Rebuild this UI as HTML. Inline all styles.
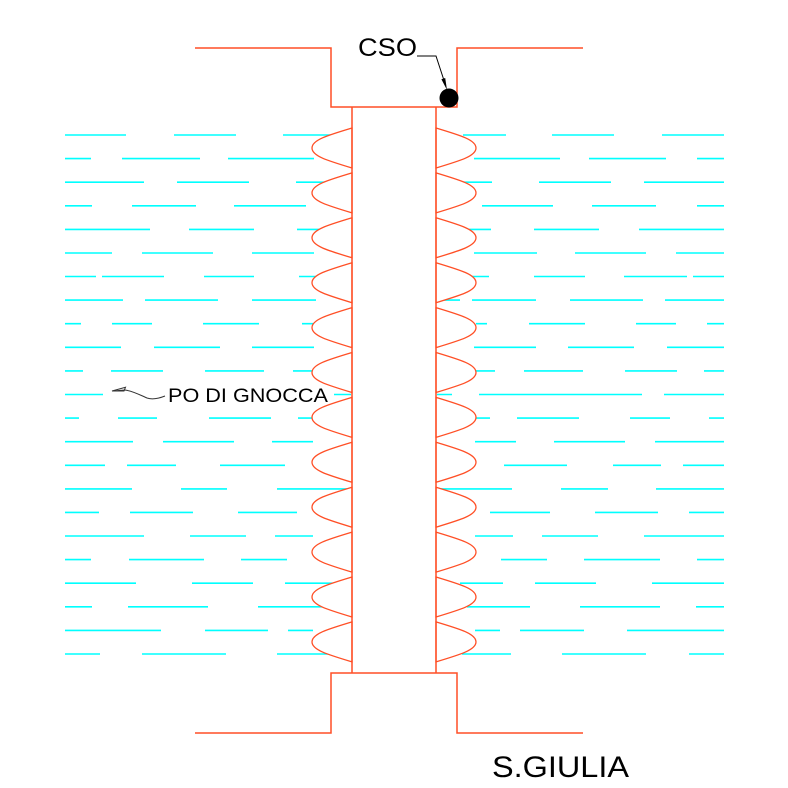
<!DOCTYPE html>
<html>
<head>
<meta charset="utf-8">
<style>
html,body{margin:0;padding:0;background:#fff;}
svg{display:block;}
text{font-family:"Liberation Sans",Arial,sans-serif;fill:#000;}
</style>
</head>
<body>
<svg width="788" height="788" viewBox="0 0 788 788" xmlns="http://www.w3.org/2000/svg">
<defs>
<path id="bl" d="M0,-20 C-25,-12.5 -40,-8 -40,0 C-40,8 -25,12.5 0,20 Z" fill="#fff" stroke="#ff4f26" stroke-width="1.3"/>
</defs>
<g stroke="#00ffff" stroke-width="1.6" fill="none">
<path d="M65,135H126M174,135H236M283,135H350M463,135H506M552,135H614M662,135H724"/>
<path d="M65,158.6H91M122,158.6H200M228,158.6H314M474,158.6H560M589,158.6H666M697,158.6H724"/>
<path d="M65,182.2H144M177,182.2H249M296,182.2H350M458,182.2H492M539,182.2H611M644,182.2H724"/>
<path d="M65,205.8H92M132,205.8H196M234,205.8H306M482,205.8H553M592,205.8H656M697,205.8H724"/>
<path d="M65,229.4H150M189,229.4H254M297,229.4H350M458,229.4H491M534,229.4H599M639,229.4H724"/>
<path d="M65,253H112M142,253H213M252,253H314M474,253H537M575,253H646M676,253H724"/>
<path d="M65,276.5H96M102,276.5H164M204,276.5H254M299,276.5H350M458,276.5H489M534,276.5H585M624,276.5H687M693,276.5H724"/>
<path d="M65,300.1H123M145,300.1H218M252,300.1H316M444,300.1H460M472,300.1H536M570,300.1H643M665,300.1H724"/>
<path d="M65,323.7H81M112,323.7H152M203,323.7H259M302,323.7H350M476,323.7H487M529,323.7H585M636,323.7H676M707,323.7H724"/>
<path d="M65,347.3H121M154,347.3H220M252,347.3H314M474,347.3H536M568,347.3H634M667,347.3H724"/>
<path d="M65,370.9H83M111,370.9H163M205,370.9H264M293,370.9H350M476,370.9H495M524,370.9H583M625,370.9H677M704,370.9H724"/>
<path d="M65,394.5H103M334,394.5H351M437,394.5H452M479,394.5H642M664,394.5H724"/>
<path d="M65,418.1H79M118,418.1H157M209,418.1H271M298,418.1H350M476,418.1H490M517,418.1H579M630,418.1H670M709,418.1H724"/>
<path d="M65,441.7H133M163,441.7H234M272,441.7H313M475,441.7H516M554,441.7H625M655,441.7H724"/>
<path d="M65,465.3H105M127,465.3H176M220,465.3H285M504,465.3H567M613,465.3H661M683,465.3H724"/>
<path d="M65,488.9H132M181,488.9H227M277,488.9H351M440,488.9H512M561,488.9H608M656,488.9H724"/>
<path d="M65,512.4H99M130,512.4H193M238,512.4H297M490,512.4H550M595,512.4H658M689,512.4H724"/>
<path d="M65,536H144M190,536H246M275,536H313M475,536H513M542,536H598M644,536H724"/>
<path d="M65,559.6H91M129,559.6H204M241,559.6H287M501,559.6H547M584,559.6H660M697,559.6H724"/>
<path d="M65,583.2H136M192,583.2H253M285,583.2H350M460,583.2H503M535,583.2H596M652,583.2H724"/>
<path d="M65,606.8H92M128,606.8H208M258,606.8H350M467,606.8H530M580,606.8H660M696,606.8H724"/>
<path d="M65,630.4H161M205,630.4H268M288,630.4H313M475,630.4H500M520,630.4H584M627,630.4H724"/>
<path d="M65,654H100M142,654H226M277,654H350M462,654H511M562,654H646M689,654H724"/>
</g>
<g>
<use href="#bl" transform="translate(352,148)"/>
<use href="#bl" transform="translate(352,192.9)"/>
<use href="#bl" transform="translate(352,237.8)"/>
<use href="#bl" transform="translate(352,282.7)"/>
<use href="#bl" transform="translate(352,327.6)"/>
<use href="#bl" transform="translate(352,372.5)"/>
<use href="#bl" transform="translate(352,417.4)"/>
<use href="#bl" transform="translate(352,462.3)"/>
<use href="#bl" transform="translate(352,507.2)"/>
<use href="#bl" transform="translate(352,552.1)"/>
<use href="#bl" transform="translate(352,597)"/>
<use href="#bl" transform="translate(352,641.9)"/>
<use href="#bl" transform="translate(436,148) scale(-1,1)"/>
<use href="#bl" transform="translate(436,192.9) scale(-1,1)"/>
<use href="#bl" transform="translate(436,237.8) scale(-1,1)"/>
<use href="#bl" transform="translate(436,282.7) scale(-1,1)"/>
<use href="#bl" transform="translate(436,327.6) scale(-1,1)"/>
<use href="#bl" transform="translate(436,372.5) scale(-1,1)"/>
<use href="#bl" transform="translate(436,417.4) scale(-1,1)"/>
<use href="#bl" transform="translate(436,462.3) scale(-1,1)"/>
<use href="#bl" transform="translate(436,507.2) scale(-1,1)"/>
<use href="#bl" transform="translate(436,552.1) scale(-1,1)"/>
<use href="#bl" transform="translate(436,597) scale(-1,1)"/>
<use href="#bl" transform="translate(436,641.9) scale(-1,1)"/>
</g>
<g stroke="#ff4f26" stroke-width="1.5" fill="none">
<path d="M352,107V673M436,107V673"/>
<polyline points="195,48 331,48 331,107 457,107 457,48 583,48"/>
<polyline points="195,733 331,733 331,673 457,673 457,733 583,733"/>
</g>
<!-- CSO leader -->
<polyline points="417,56 436,56 445.5,85" fill="none" stroke="#000" stroke-width="1"/>
<polygon points="445.2,78 441.4,79.2 447,90" fill="#000"/>
<circle cx="449" cy="98" r="9.5" fill="#000"/>
<text x="358" y="56" font-size="25" textLength="59" lengthAdjust="spacingAndGlyphs">CSO</text>
<!-- PO DI GNOCCA leader -->
<path d="M165,396 C160,398 153,400 147,398 C140,395 133,391 125,390 L113,391" fill="none" stroke="#333" stroke-width="1"/>
<polygon points="112,391 125.5,387.3 124,391" fill="none" stroke="#333" stroke-width="1"/>
<text x="168" y="402" font-size="19.5" textLength="160" lengthAdjust="spacingAndGlyphs">PO DI GNOCCA</text>
<text x="492" y="777" font-size="30" textLength="137" lengthAdjust="spacingAndGlyphs">S.GIULIA</text>
</svg>
</body>
</html>
